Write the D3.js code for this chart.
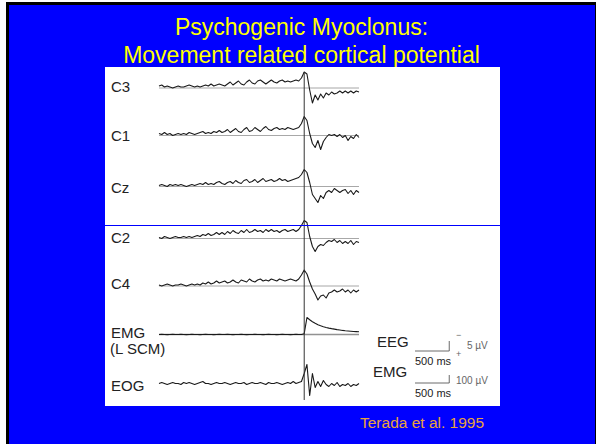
<!DOCTYPE html>
<html>
<head>
<meta charset="utf-8">
<script src="https://cdn.jsdelivr.net/npm/d3@7"></script>
<style>
  body { margin: 0; background: #fff; }
  svg { display: block; }
</style>
</head>
<body>
<div id="chart"></div>
<script>

// sample times in ms (every 40 ms), 0 = movement onset
const times = d3.range(-2120, 801, 40)

// EEG channels in µV (negative up)
const c3 = [-1, -1.5, -0.5, -1, -0.5, 0, -0.5, -1, -0.5, -0.5, -1, -1.5, -1,
  -0.5, -1, -0.5, -1, -1.5, -1, -2, -1, -1.5, -2, -1.5, -1, -2,
  -3, -1.5, -2.5, -3.5, -2, -1.5, -3, -4, -2.5, -2, -3.5, -4, -3, -2,
  -3, -4, -3, -2.5, -3.5, -4, -3, -3.5, -3, -3.5, -4, -3.5, -5,
  -8,
  -7, 1, 7.5, 3.5, 6, 3, 5, 2.5, 3.5, 2, 3, 2.5, 1.5, 2.5, 1.5, 2.5, 1.5, 2.5, 1.5, 2]

const c1 = [-1, -0.5, -1.5, -0.5, -1, 0, -0.5, -1, -0.5, -1, -0.5, -1.5, -1,
  -0.5, -1, -1.5, -2, -1, -1.5, -1, -2, -1.5, -2.5, -1.5, -2, -3,
  -1.5, -2.5, -3.5, -2, -1.5, -3, -4, -2, -2.5, -4, -3, -2, -3.5, -4.5,
  -3, -2.5, -3.5, -4, -3, -3.5, -3, -4, -3.5, -3, -3.5, -4, -6,
  -9.5,
  -7.5, -1, 4, 6, 2.5, 7, 3, 1, -0.5, 0, -0.5, 0.5, -0.5, 1, 0, 2.5, 0.5, 1.5, -0.5, 1]

const cz = [-0.5, -1, -0.5, 0, -1, -0.5, -1, -0.5, -1, -0.5, 0, -0.5, -1,
  -0.5, -1, -1.5, -1, -2, -1, -1.5, -1, -2, -2.5, -1.5, -1, -2,
  -2.5, -1.5, -3, -2, -1.5, -3, -3.5, -2, -2.5, -3.5, -2, -3, -4, -2.5,
  -3, -3.5, -2.5, -3, -4, -3, -3.5, -2.5, -3, -3.5, -4, -4.5, -6,
  -8.5,
  -7, -2, 4, 6, 8, 4.5, 6, 3, 2, 3, 1, 2, 3, 2, 1.5, 3.5, 2, 4, 2, 3]

const c2 = [-0.5, 0, -1, -0.5, 0, -0.5, -1, -0.5, -0.5, -1, -0.5, -1, -0.5,
  -1, -1.5, -1, -2, -1.5, -2.5, -1.5, -2, -3, -2, -3, -2, -3.5,
  -2.5, -4, -3, -2.5, -4, -3, -4.5, -3, -3.5, -4.5, -3.5, -4, -3, -4.5,
  -3.5, -4.5, -3.5, -4, -3, -4, -4.5, -3.5, -4, -4.5, -3.5, -4.5, -6.5,
  -9,
  -8, -1, 4, 6.5, 4, 3, 3.5, 2, 1, 1.5, 0.5, 2, 1, 2.5, 1.5, 2.5, 1, 3, 1.5, 2]

const c4 = [-0.5, 0, -0.5, -1, -0.5, 0, -0.5, -0.5, -1, -0.5, 0, -0.5, -1,
  -0.5, -1, -0.5, -1.5, -1, -2, -1, -1.5, -2.5, -1.5, -2, -2.5, -1.5,
  -2, -3, -2, -1.5, -3, -2.5, -2, -3.5, -2.5, -2, -3, -3.5, -2.5, -3,
  -2.5, -3.5, -3, -2.5, -3.5, -3, -2.5, -3, -3.5, -3, -2.5, -3.5, -5.5,
  -8,
  -6, -2, 1.5, 4, 7, 5, 4.5, 6, 3.5, 3, 2, 3, 2.5, 1.5, 3, 2, 3.5, 2, 3, 2]

// EMG (L SCM) in µV
const emg = [0, -2, 0, 2, 0, -2, 0, 0, -2, 0, 2, 0, -2,
  0, 0, 2, 0, -2, 0, 0, 2, 0, -2, 0, 0, -2,
  0, 2, 0, 0, -2, 0, 2, 0, 0, -2, 0, 0, 2, 0,
  -2, 0, 0, 2, 0, -2, 0, 0, 2, 0, -2, 0, 0,
  -10,
  -212, -185, -160, -140, -123, -110, -98, -88, -80, -73, -67, -61, -56, -51, -47, -44, -41, -38, -36, -34]

// EOG
const eog = [0, -0.5, 0, 0.5, 0, -0.5, 0, 0, 0.5, -0.5, 0, -0.5, 0,
  0.5, 0, -0.5, -1, 0, 0, 0.5, 0, -0.5, 0, 0, -0.5, 0,
  0.5, 0, -0.5, 0, 0, -0.5, 0.5, 0, -0.5, 0, 0, -0.5, 0, 0.5,
  -0.5, 0, 0, -0.5, 0, 0.5, 0, -0.5, 0, -1, 0, -0.5, -1,
  -5,
  -9.5, 6, -5, 2, -1, 1.5, -1.5, 0.5, 1.5, 0, 1, -0.5, 1.5, 0.5, 1, 0, 1.5, 0.5, 1, 0]

const channels = [
  { name: "C3", values: c3, base: 88, kind: "eeg" },
  { name: "C1", values: c1, base: 135.5, kind: "eeg" },
  { name: "Cz", values: cz, base: 186.5, kind: "eeg" },
  { name: "C2", values: c2, base: 238.5, kind: "eeg" },
  { name: "C4", values: c4, base: 286, kind: "eeg" },
  { name: "EMG", values: emg, base: 334.5, kind: "emg" },
  { name: "EOG", values: eog, base: 383.5, kind: "eeg" }
]
const labelY = { C3: 92, C1: 141, Cz: 193, C2: 243, C4: 289, EMG: 338, EOG: 391 }

const width = 596
const height = 444
const font = "Liberation Sans, Arial, sans-serif"

const svg = d3.select("#chart")
  .append("svg")
  .attr("width", width)
  .attr("height", height)

// slide frame
svg.append("rect")
  .attr("x", 7.5).attr("y", 3.5)
  .attr("width", 600).attr("height", 460)
  .attr("fill", "#0000ff")
  .attr("stroke", "#000")
  .attr("stroke-width", 3)

svg.append("line")
  .attr("x1", 595.5).attr("x2", 595.5)
  .attr("y1", 2).attr("y2", height)
  .attr("stroke", "#000")

svg.append("g")
  .attr("fill", "#ffff00")
  .attr("text-anchor", "middle")
  .style("font-family", font)
  .style("font-size", "23px")
  .selectAll("text")
  .data(["Psychogenic Myoclonus:", "Movement related cortical potential"])
  .join("text")
    .attr("x", 301.5)
    .attr("y", (d, i) => 35 + i * 28)
    .text(d => d)

// white figure panel
svg.append("rect")
  .attr("x", 105).attr("y", 67)
  .attr("width", 395).attr("height", 339)
  .attr("fill", "#fff")

const x = d3.scaleLinear().domain([-2120, 800]).range([159, 359])
const eegScale = 10 / 5     // px per µV
const emgScale = 8 / 100

const line = d3.line()
  .x((d, i) => x(times[i]))

const ch = svg.append("g")
  .selectAll("g")
  .data(channels)
  .join("g")

// reference lines
ch.append("line")
  .attr("x1", x(-2120)).attr("x2", x(800))
  .attr("y1", d => d.base).attr("y2", d => d.base)
  .attr("stroke", "#777")
  .attr("stroke-width", d => d.kind === "emg" ? 1.6 : 0.8)
  .attr("opacity", d => d.name === "EOG" ? 0 : 0.8)

ch.append("path")
  .attr("fill", "none")
  .attr("stroke", "#1a1a1a")
  .attr("stroke-width", 1.1)
  .attr("stroke-linejoin", "round")
  .attr("d", d => {
    const k = d.kind === "emg" ? emgScale : eegScale
    return line.y(v => d.base + v * k)(d.values)
  })

ch.append("text")
  .attr("x", 111)
  .attr("y", d => labelY[d.name])
  .attr("fill", "#222")
  .style("font-family", font)
  .style("font-size", "15px")
  .text(d => d.name)

svg.append("text")
  .attr("x", 110).attr("y", 354)
  .attr("fill", "#222")
  .style("font-family", font)
  .style("font-size", "15px")
  .text("(L SCM)")

// onset marker
svg.append("line")
  .attr("x1", x(0)).attr("x2", x(0))
  .attr("y1", 72).attr("y2", 400)
  .attr("stroke", "#333")
  .attr("stroke-width", 1)

// calibration bars
const cal = svg.append("g")
  .style("font-family", font)
  .attr("fill", "#222")

const bar = (y0, h) => `M415,${y0}H${415 + x(500) - x(0)}V${y0 - h}`

cal.append("text").attr("x", 377).attr("y", 347).style("font-size", "15px").text("EEG")
cal.append("path").attr("d", bar(351, 5 * eegScale)).attr("fill", "none").attr("stroke", "#444").attr("stroke-width", 0.8)
cal.append("text").attr("x", 415).attr("y", 365).style("font-size", "11px").text("500 ms")
cal.append("text").attr("x", 456).attr("y", 338).style("font-size", "9px").attr("fill", "#666").text("−")
cal.append("text").attr("x", 456).attr("y", 357).style("font-size", "9px").attr("fill", "#666").text("+")
cal.append("text").attr("x", 467).attr("y", 349).style("font-size", "10px").attr("fill", "#666").text("5 µV")

cal.append("text").attr("x", 373).attr("y", 377).style("font-size", "15px").text("EMG")
cal.append("path").attr("d", bar(383, 100 * emgScale)).attr("fill", "none").attr("stroke", "#444").attr("stroke-width", 0.8)
cal.append("text").attr("x", 415).attr("y", 397).style("font-size", "11px").text("500 ms")
cal.append("text").attr("x", 456).attr("y", 384).style("font-size", "10px").attr("fill", "#666").text("100 µV")

// separator across the panel
svg.append("line")
  .attr("x1", 105).attr("x2", 500)
  .attr("y1", 225.5).attr("y2", 225.5)
  .attr("stroke", "#0000ff")
  .attr("stroke-width", 1.2)

svg.append("text")
  .attr("x", 360).attr("y", 428)
  .attr("fill", "#e8a33a")
  .style("font-family", font)
  .style("font-size", "15.5px")
  .text("Terada et al. 1995")

</script>
</body>
</html>
